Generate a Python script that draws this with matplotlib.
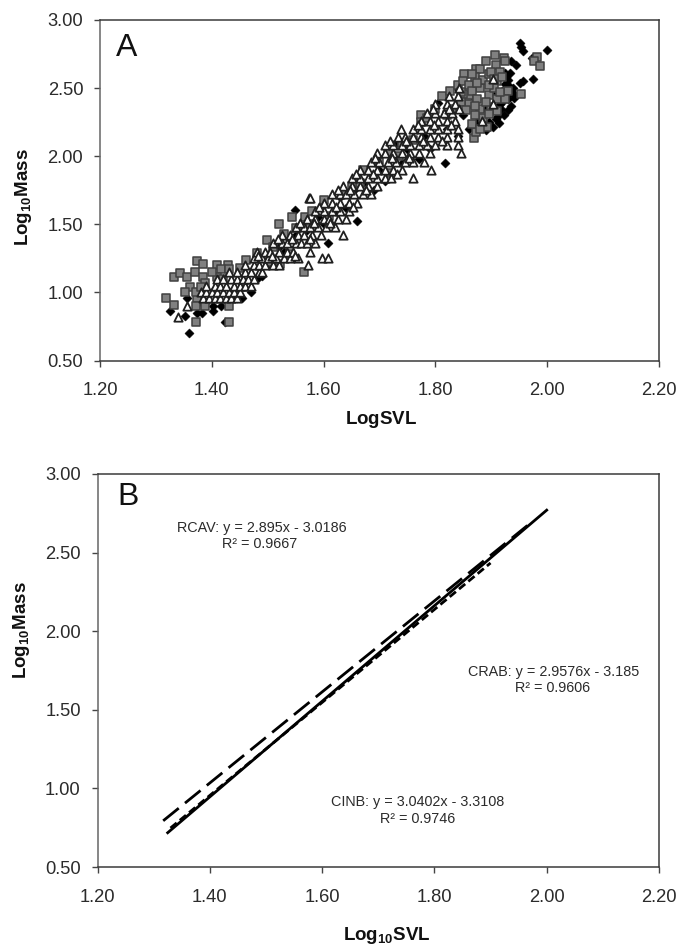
import matplotlib
matplotlib.use('Agg')
import matplotlib.pyplot as plt

plt.rcParams['font.family'] = ['Liberation Sans', 'DejaVu Sans']
plt.rcParams['mathtext.fontset'] = 'custom'
plt.rcParams['mathtext.bf'] = 'Liberation Sans:bold'
plt.rcParams['mathtext.rm'] = 'Liberation Sans'

W, H = 693, 944
TXT = '#2b2b2b'

x_ticks = [1.20, 1.40, 1.60, 1.80, 2.00, 2.20]
y_ticks = [0.50, 1.00, 1.50, 2.00, 2.50, 3.00]

# panel A (svl, mass)
diamond_pts = [
    (1.36, 0.70), (1.326, 0.86), (1.352, 0.83), (1.373, 0.85), (1.383, 0.85), (1.403, 0.86),
    (1.424, 0.78), (1.47, 1.00), (1.445, 0.96), (1.454, 0.96), (1.356, 0.96), (1.402, 0.90),
    (1.416, 0.90), (1.39, 0.93), (1.43, 0.95), (1.41, 0.97), (1.375, 0.92), (1.44, 1.02),
    (1.46, 1.08), (1.48, 1.10), (1.49, 1.12), (1.50, 1.20), (1.53, 1.30), (1.51, 1.24),
    (1.549, 1.605), (1.607, 1.366), (1.66, 1.525), (1.52, 1.33), (1.55, 1.42), (1.57, 1.46),
    (1.59, 1.55), (1.60, 1.50), (1.62, 1.60), (1.63, 1.70), (1.64, 1.62), (1.655, 1.75),
    (1.67, 1.80), (1.69, 1.75), (1.70, 1.90), (1.71, 1.82), (1.727, 2.09), (1.74, 1.95),
    (1.75, 2.05), (1.77, 1.98), (1.78, 2.15), (1.79, 2.05), (1.805, 2.39), (1.817, 1.95),
    (1.82, 2.20), (1.839, 2.50), (1.84, 2.15), (1.85, 2.30), (1.86, 2.20), (1.87, 2.42),
    (1.875, 2.25), (1.89, 2.19), (1.89, 2.35), (1.90, 2.52), (1.903, 2.215), (1.905, 2.44),
    (1.91, 2.58), (1.914, 2.245), (1.915, 2.38), (1.92, 2.48), (1.923, 2.30), (1.924, 2.61),
    (1.925, 2.53), (1.928, 2.45), (1.93, 2.56), (1.933, 2.61), (1.935, 2.70), (1.936, 2.365),
    (1.938, 2.50), (1.94, 2.46), (1.944, 2.67), (1.951, 2.83), (1.954, 2.80), (1.957, 2.77),
    (1.957, 2.55), (1.952, 2.54), (1.972, 2.72), (1.975, 2.57), (1.999, 2.78), (1.91, 2.29),
    (1.90, 2.33), (1.92, 2.40), (1.93, 2.42), (1.926, 2.58), (1.93, 2.52), (1.935, 2.47),
    (1.94, 2.43), (1.918, 2.35), (1.908, 2.27), (1.896, 2.25), (1.885, 2.21), (1.93, 2.34),
]
square_pts = [
    (1.318, 0.957), (1.332, 0.908), (1.332, 1.116), (1.344, 1.146), (1.355, 1.116), (1.374, 1.23),
    (1.384, 1.21), (1.370, 1.153), (1.384, 1.116), (1.388, 1.07), (1.361, 1.043), (1.352, 1.00),
    (1.372, 0.783), (1.431, 0.783), (1.565, 1.15), (1.409, 1.20), (1.429, 1.20), (1.416, 1.17),
    (1.431, 1.17), (1.409, 1.116), (1.373, 0.96), (1.388, 0.90), (1.43, 0.90), (1.371, 0.90),
    (1.40, 1.15), (1.372, 1.00), (1.42, 1.10), (1.38, 1.04), (1.45, 1.18), (1.456, 1.04),
    (1.462, 1.24), (1.48, 1.29), (1.498, 1.385), (1.52, 1.50), (1.544, 1.55), (1.567, 1.557),
    (1.54, 1.28), (1.522, 1.21), (1.50, 1.22), (1.51, 1.33), (1.53, 1.43), (1.55, 1.47),
    (1.575, 1.50), (1.60, 1.68), (1.58, 1.60), (1.61, 1.56), (1.635, 1.72), (1.67, 1.90),
    (1.666, 1.805), (1.65, 1.78), (1.70, 1.97), (1.715, 2.02), (1.72, 1.88), (1.735, 2.00),
    (1.74, 2.10), (1.76, 2.12), (1.774, 2.30), (1.774, 2.25), (1.785, 2.28), (1.80, 2.35),
    (1.811, 2.44), (1.826, 2.477), (1.84, 2.52), (1.851, 2.60), (1.86, 2.45), (1.873, 2.64),
    (1.88, 2.64), (1.89, 2.70), (1.906, 2.74), (1.923, 2.72), (1.908, 2.67), (1.924, 2.70),
    (1.981, 2.73), (1.976, 2.70), (1.987, 2.66), (1.954, 2.46), (1.93, 2.48), (1.869, 2.135),
    (1.873, 2.18), (1.892, 2.215), (1.85, 2.55), (1.86, 2.52), (1.87, 2.58), (1.88, 2.50),
    (1.885, 2.56), (1.895, 2.60), (1.90, 2.62), (1.91, 2.55), (1.915, 2.62), (1.92, 2.58),
    (1.895, 2.45), (1.905, 2.50), (1.90, 2.36), (1.91, 2.42), (1.925, 2.42), (1.88, 2.35),
    (1.885, 2.28), (1.87, 2.30), (1.86, 2.38), (1.85, 2.46), (1.845, 2.40), (1.865, 2.24),
    (1.91, 2.33), (1.83, 2.35), (1.82, 2.30), (1.855, 2.34), (1.865, 2.48), (1.875, 2.42),
    (1.89, 2.40), (1.875, 2.54), (1.895, 2.52), (1.88, 2.20), (1.895, 2.31), (1.905, 2.57),
    (1.865, 2.60), (1.845, 2.47), (1.915, 2.47), (1.87, 2.37),
]
tri_mass = [0.82, 0.90, 0.96, 1.00, 1.05, 1.10, 1.15, 1.20, 1.25, 1.30, 1.36, 1.42, 1.48, 1.54,
            1.60, 1.66, 1.69, 1.72, 1.78, 1.84, 1.90, 1.96, 2.02, 2.08, 2.14, 2.20, 2.26, 2.32,
            2.38, 2.44, 2.50, 2.57, 1.27, 1.39, 1.51, 1.63, 1.75, 1.87, 1.99, 2.11, 2.23, 2.35]
tri_svl = [
    [1.34], [1.356],
    [1.385, 1.395, 1.405, 1.415, 1.425, 1.435, 1.445],
    [1.38, 1.39, 1.40, 1.41, 1.42, 1.43, 1.44, 1.45],
    [1.39, 1.405, 1.415, 1.425, 1.44, 1.45, 1.46, 1.47],
    [1.41, 1.42, 1.435, 1.445, 1.455, 1.465, 1.475],
    [1.43, 1.445, 1.46, 1.47, 1.485, 1.49],
    [1.46, 1.475, 1.485, 1.495, 1.51, 1.52, 1.572],
    [1.475, 1.49, 1.50, 1.515, 1.53, 1.54, 1.555, 1.597, 1.608],
    [1.48, 1.495, 1.505, 1.52, 1.535, 1.545, 1.576],
    [1.51, 1.525, 1.535, 1.55, 1.56, 1.57, 1.585],
    [1.525, 1.54, 1.555, 1.565, 1.58, 1.595, 1.635],
    [1.55, 1.565, 1.575, 1.59, 1.605, 1.62],
    [1.57, 1.585, 1.60, 1.61, 1.625, 1.64],
    [1.585, 1.60, 1.615, 1.63, 1.645],
    [1.60, 1.615, 1.63, 1.645, 1.66],
    [1.574, 1.576],
    [1.615, 1.63, 1.64, 1.655, 1.67, 1.685],
    [1.635, 1.65, 1.665, 1.68, 1.695],
    [1.65, 1.665, 1.68, 1.695, 1.71, 1.72, 1.76],
    [1.665, 1.68, 1.695, 1.71, 1.725, 1.74, 1.793],
    [1.685, 1.70, 1.715, 1.73, 1.745, 1.76, 1.78],
    [1.695, 1.71, 1.725, 1.74, 1.755, 1.77, 1.79, 1.845],
    [1.71, 1.725, 1.74, 1.755, 1.77, 1.785, 1.80, 1.82, 1.84],
    [1.733, 1.745, 1.76, 1.775, 1.79, 1.805, 1.82, 1.84],
    [1.739, 1.76, 1.775, 1.79, 1.805, 1.82, 1.84],
    [1.775, 1.79, 1.805, 1.82, 1.835, 1.883],
    [1.785, 1.80, 1.815, 1.83],
    [1.80, 1.82, 1.835, 1.903],
    [1.825, 1.84],
    [1.843],
    [1.903],
    [1.483, 1.508, 1.548],
    [1.518, 1.543, 1.575],
    [1.558, 1.583, 1.612],
    [1.592, 1.622, 1.652],
    [1.625, 1.648, 1.676],
    [1.658, 1.688, 1.732],
    [1.692, 1.722, 1.752],
    [1.718, 1.748, 1.778, 1.812],
    [1.768, 1.798, 1.828],
    [1.795, 1.825, 1.842],
]

# panel B, regression line ends
rcav_x = [1.317, 1.97]
rcav_y = [0.794, 2.685]
crab_x = [1.33, 1.90]
crab_y = [0.748, 2.434]
cinb_x = [1.325, 2.00]
cinb_y = [0.718, 2.77]


def px_x(x):
    return x / W


def px_y(y):
    return 1 - y / H


def make_axes(fig, left, top, right, bottom):
    ax = fig.add_axes([px_x(left), px_y(bottom), (right - left) / W, (bottom - top) / H])
    ax.set_xlim(1.20, 2.20)
    ax.set_ylim(0.50, 3.00)
    ax.set_xticks(x_ticks)
    ax.set_yticks(y_ticks)
    ax.set_xticklabels(['%.2f' % t for t in x_ticks])
    ax.set_yticklabels(['%.2f' % t for t in y_ticks])
    ax.tick_params(direction='out', length=4.6, width=1.0, color='#444444', labelsize=13.2,
                   labelcolor=TXT)
    ax.tick_params(axis='x', pad=11)
    ax.tick_params(axis='y', pad=7.5)
    for side in ax.spines:
        ax.spines[side].set_linewidth(1.1)
        ax.spines[side].set_color('#3a3a3a')
    ax.spines['left'].set_color('#666666')
    return ax


fig = plt.figure(figsize=(W / 100, H / 100), dpi=100)

ax1 = make_axes(fig, 100, 20, 659, 360.5)
ax1.scatter([p[0] for p in diamond_pts], [p[1] for p in diamond_pts], marker='D', s=22,
            color='black', linewidths=0.3, zorder=2)
ax1.scatter([p[0] for p in square_pts], [p[1] for p in square_pts], marker='s', s=32,
            facecolor='#808080', edgecolor='#404040', linewidths=1.1, zorder=3)
tri_x = [x for row in tri_svl for x in row]
tri_y = [m for m, row in zip(tri_mass, tri_svl) for x in row]
ax1.scatter(tri_x, tri_y, marker='^', s=36, facecolor='white', edgecolor='#202020',
            linewidths=1.3, zorder=4)

ax2 = make_axes(fig, 97.5, 474, 659, 867)
ax2.plot(rcav_x, rcav_y, color='black', lw=2.0, dashes=(7.2, 2.9))
ax2.plot(crab_x, crab_y, color='black', lw=2.0, dashes=(2.9, 1.45))
ax2.plot(cinb_x, cinb_y, color='black', lw=2.0)

fig.text(px_x(127), px_y(48), 'A', fontsize=23, color='#111111', ha='center', va='center')
fig.text(px_x(128), px_y(497), 'B', fontsize=23, color='#111111', ha='center', va='center')

notes = [
    (261.5, 528, 'RCAV: y = 2.895x - 3.0186'),
    (260, 544, 'R² = 0.9667'),
    (553.5, 672, 'CRAB: y = 2.9576x - 3.185'),
    (553, 688, 'R² = 0.9606'),
    (418, 802, 'CINB: y = 3.0402x - 3.3108'),
    (418, 819, 'R² = 0.9746'),
]
for nx, ny, label in notes:
    fig.text(px_x(nx), px_y(ny), label, fontsize=10.4, color=TXT, ha='center', va='center')

fig.text(px_x(381), px_y(420), r'$\mathbf{LogSVL}$', fontsize=13.5, color='#111111',
         ha='center', va='center')
fig.text(px_x(387), px_y(935), r'$\mathbf{Log_{10}SVL}$', fontsize=13.5, color='#111111',
         ha='center', va='center')
fig.text(px_x(24), px_y(197), r'$\mathbf{Log_{10}Mass}$', fontsize=13.5, color='#111111',
         ha='center', va='center', rotation=90)
fig.text(px_x(22), px_y(630), r'$\mathbf{Log_{10}Mass}$', fontsize=13.5, color='#111111',
         ha='center', va='center', rotation=90)

fig.savefig('out.png', dpi=100)
